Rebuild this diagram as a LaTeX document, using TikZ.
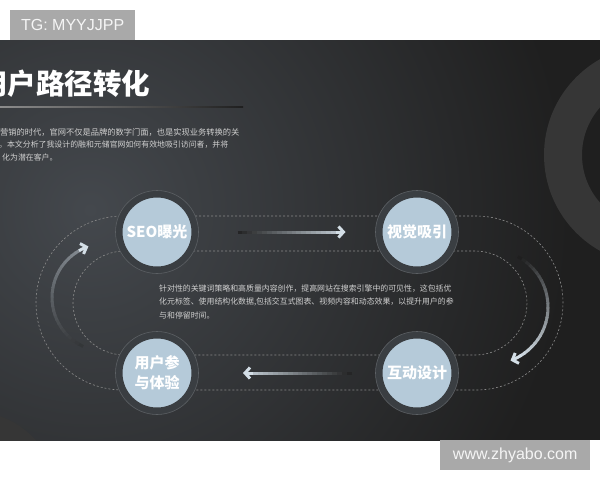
\documentclass[tikz,border=0pt]{standalone}
\usepackage{fontspec}
\setmainfont{Liberation Sans}
\newfontfamily\cjk{Noto Sans CJK SC}
\usetikzlibrary{calc,positioning,arrows.meta}
\definecolor{panel}{HTML}{1F1F1F}
\definecolor{glow}{HTML}{44484D}
\definecolor{ringc}{HTML}{3A3E42}
\definecolor{ringe}{HTML}{5C6064}
\definecolor{bluec}{HTML}{B5CAD9}
\definecolor{arrc}{HTML}{D3DEE6}
\definecolor{markc}{HTML}{A9A9A9}
\definecolor{txtc}{HTML}{D0D0D0}
\definecolor{dashc}{HTML}{8A8A8A}
\definecolor{decoc}{HTML}{363636}

\begin{document}
\begin{tikzpicture}[x=1pt,y=-1pt,
stepnode/.style={circle,fill=bluec,draw=ringc,line width=7pt,minimum size=76pt,inner sep=0pt,text=white,align=center,font=\cjk\bfseries\fontsize{15}{18}\selectfont},
track/.style={draw=dashc,dash pattern=on 2pt off 2pt,line width=0.6pt},
arw/.style={line width=3pt},
arrtip/.style={-{Straight Barb[length=5pt,width=11pt]}},
para/.style={anchor=west,inner sep=0pt,text=txtc,font=\cjk\fontsize{7.9}{9}\selectfont},
wmark/.style={fill=markc,text=white!96!black,minimum width=125pt,minimum height=30pt,inner sep=0pt,font=\fontsize{16}{18}\selectfont}]
\useasboundingbox (0,0) rectangle (600,480);
\fill[white] (0,0) rectangle (600,480);
\fill[panel] (0,40) rectangle (600,440);
\begin{scope}
\clip (0,40) rectangle (600,440);
\shade[inner color=glow,outer color=panel] (90,210) circle (480);
\fill[decoc,even odd rule] (654,155) circle (110) (654,155) circle (72);
\fill[decoc] (-30,500) circle (89);
\node (T) [anchor=base west,inner sep=0pt,text=white,font=\cjk\bfseries\fontsize{28.5}{30}\selectfont] at (-21,94) {用户路径转化};
\shade[left color=gray!90,right color=panel] (0,106.5) rectangle (243,107.5);
\node (P1) [para,font=\cjk\fontsize{8.25}{9}\selectfont] at (0,132) {营销的时代，官网不仅是品牌的数字门面，也是实现业务转换的关};
\node (P2) [para] at (-1,145) {。本文分析了我设计的融和元储官网如何有效地吸引访问者，并将};
\node (P3) [para] at (2,157) {化为潜在客户。};
\end{scope}

\draw[track] (123,216) -- (476,216) arc (-90:90:87) -- (123,390) arc (90:270:87) -- cycle;
\draw[track] (125,251) -- (475,251) arc (-90:90:52) -- (125,355) arc (90:270:52) -- cycle;

\node (A) [stepnode] at (157,232) {SEO曝光};
\node (B) [stepnode] at (417,232) {视觉吸引};
\node (C) [stepnode] at (417,373) {互动设计};
\node (D) [stepnode,font=\cjk\bfseries\fontsize{15}{20}\selectfont] at (157,373) {用户参\\与体验};
\foreach \n in {A,B,C,D} \draw[ringe,line width=0.6pt] (\n.center) circle (41.5);

\node (M1) [para] at (159,289) {针对性的关键词策略和高质量内容创作，提高网站在搜索引擎中的可见性，这包括优};
\node (M2) [para] at (159,302) {化元标签、使用结构化数据,包括交互式图表、视频内容和动态效果，以提升用户的参};
\node (M3) [para] at (159,315) {与和停留时间。};

\coordinate (S1) at ($(A.east)+(39,0)$);
\coordinate (E1) at ($(B.west)+(-30,0)$);
\coordinate (S2) at ($(C.west)+(-23.5,0)$);
\coordinate (E2) at ($(D.east)+(44.5,0)$);
\coordinate (LC) at ($(A)!0.5!(D)+(-51,-5)$);
\coordinate (RC) at ($(B)!0.5!(C)+(74,4.5)$);

\foreach \i in {0,...,19}{
\pgfmathtruncatemacro\p{5*\i}
\draw[arw,draw=arrc!\p!panel!85!glow] ($(S1)!{\i/22}!(E1)$) -- ($(S1)!{(\i+1.3)/22}!(E1)$);
\draw[arw,draw=arrc!\p!panel!85!glow] ($(S2)!{\i/22}!(E2)$) -- ($(S2)!{(\i+1.3)/22}!(E2)$);
}
\draw[arw,arrtip,arrc] ($(S1)!{20/22}!(E1)$) -- (E1);
\draw[arw,arrtip,arrc] ($(S2)!{20/22}!(E2)$) -- (E2);

\foreach \i in {0,...,24}{
\pgfmathtruncatemacro\p{4*\i}
\draw[arw,draw=arrc!\p!panel!45!glow] ($(LC)+({115+5*\i}:54)$) arc ({115+5*\i}:{121+5*\i}:54);
\draw[arw,draw=arrc!\p!panel] ($(RC)+({-62+4.8*\i}:57)$) arc ({-62+4.8*\i}:{-56+4.8*\i}:57);
}
\draw[arw,arrtip,arrc] ($(LC)+(240:54)$) arc (240:251:54);
\draw[arw,arrtip,arrc] ($(RC)+(58:57)$) arc (58:70:57);

\node (W1) [wmark,anchor=north west] at (10,10) {TG: MYYJJPP};
\node (W2) [wmark,minimum width=150pt,anchor=north west] at (440,440) {www.zhyabo.com};
\end{tikzpicture}
\end{document}
